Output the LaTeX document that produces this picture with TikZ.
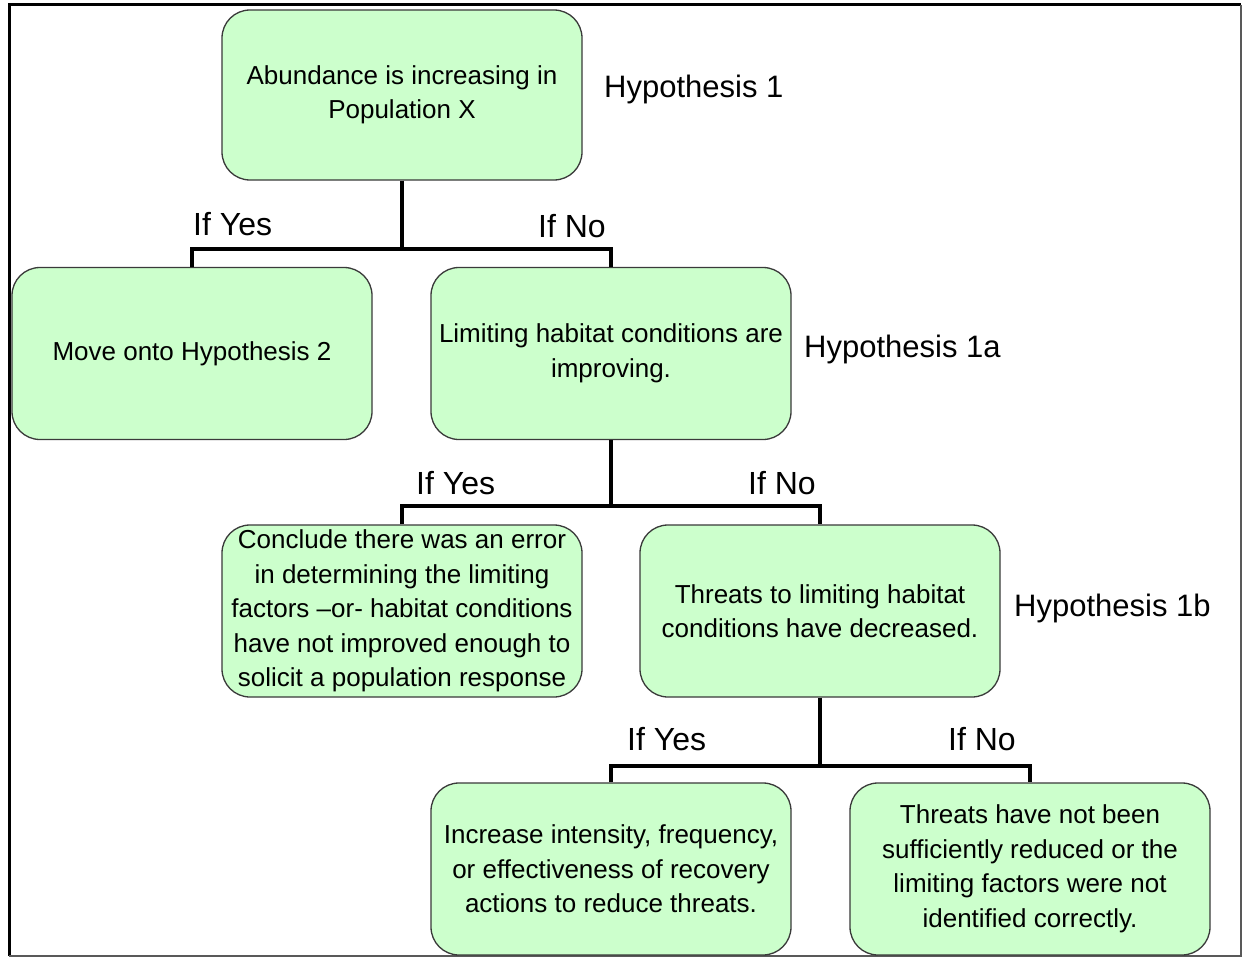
\documentclass[tikz,border=0pt]{standalone}
\usepackage{fontspec}
\setmainfont{Liberation Sans}
\definecolor{boxgreen}{HTML}{CCFFCC}
\definecolor{boxline}{HTML}{3A3A3A}
\begin{document}
\begin{tikzpicture}[x=1pt,y=-1pt,
  box/.style={draw=boxline, line width=1.3pt, fill=boxgreen, rounded corners=28pt,
    minimum width=360pt, minimum height=172pt, align=center, inner sep=2pt,
    font=\fontsize{26}{34.5}\selectfont},
  conn/.style={line width=4pt, draw=black},
  lab/.style={anchor=base west, inner sep=0pt, font=\fontsize{32}{38}\selectfont},
  hyp/.style={anchor=base west, inner sep=0pt, font=\fontsize{31}{37}\selectfont}]
\useasboundingbox (0,0) rectangle (1243,958);
\fill[white] (0,0) rectangle (1243,958);
% frame
\draw[line width=3pt, black] (9,956) -- (9,5) -- (1241,5);
\draw[line width=1.5pt, black!65] (1241,5) -- (1241,956) -- (9,956);
% boxes
\node[box, minimum height=170pt] (n1) at (402,95) {Abundance is increasing in\\Population X};
\node[box] (n2) at (192,353.5) {Move onto Hypothesis 2};
\node[box] (n3) at (611,353.5) {Limiting habitat conditions are\\improving.};
\node[box] (n4) at (402,611) {Conclude there was an error\\in determining the limiting\\factors --or- habitat conditions\\have not improved enough to\\solicit a population response};
\node[box] (n5) at (820,611) {Threats to limiting habitat\\conditions have decreased.};
\node[box] (n6) at (611,869) {Increase intensity, frequency,\\or effectiveness of recovery\\actions to reduce threats.};
\node[box] (n7) at (1030,869) {Threats have not been\\sufficiently reduced or the\\limiting factors were not\\identified correctly.};
% connectors
\coordinate (j1) at ([yshift=-68pt]n1.south);
\coordinate (j2) at ([yshift=-66pt]n3.south);
\coordinate (j3) at ([yshift=-68pt]n5.south);
\draw[conn] (n1.south) -- (j1);
\draw[conn] (n2.north) |- (j1) -| (n3.north);
\draw[conn] (n3.south) -- (j2);
\draw[conn] (n4.north) |- (j2) -| (n5.north);
\draw[conn] (n5.south) -- (j3);
\draw[conn] (n6.north) |- (j3) -| (n7.north);
% branch labels
\node[lab] (y1) at (193,235) {If Yes};
\node[lab] (no1) at (538,237) {If No};
\node[lab] (y2) at (416,494) {If Yes};
\node[lab] (no2) at (748,494) {If No};
\node[lab] (y3) at (627,750) {If Yes};
\node[lab] (no3) at (948,750) {If No};
% hypothesis labels
\node[hyp] (h1) at (604,98) {Hypothesis 1};
\node[hyp] (h1a) at (804,357) {Hypothesis 1a};
\node[hyp] (h1b) at (1014,616) {Hypothesis 1b};
\end{tikzpicture}
\end{document}
